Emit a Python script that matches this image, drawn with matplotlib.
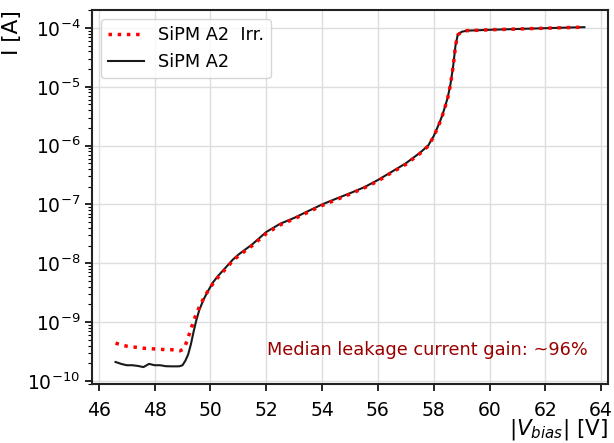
import matplotlib
import matplotlib.pyplot as plt
import numpy as np

matplotlib.use("Agg")

# bias voltage [V]
v_bias = [46.6, 46.8, 47.0, 47.2, 47.4, 47.6, 47.8, 48.0, 48.2, 48.4, 48.6,
          48.8, 48.9, 49.0, 49.1, 49.2, 49.3, 49.4, 49.5, 49.6, 49.75, 49.9,
          50.1, 50.3, 50.5, 50.8, 51.0, 51.5, 52.0, 52.5, 53.0, 53.5, 54.0,
          54.5, 55.0, 55.5, 56.0, 56.5, 57.0, 57.5, 57.8, 58.0, 58.2, 58.3,
          58.4, 58.5, 58.6, 58.7, 58.78, 58.86, 59.0, 59.2, 59.5, 60.0, 61.0,
          62.0, 63.0, 63.4]

# current [A], irradiated
i_irr = [4.4e-10, 4.1e-10, 3.9e-10, 3.8e-10, 3.7e-10, 3.6e-10, 3.55e-10,
         3.5e-10, 3.45e-10, 3.4e-10, 3.4e-10, 3.3e-10, 3.25e-10, 3.4e-10,
         4.0e-10, 5.5e-10, 7.5e-10, 1.05e-9, 1.4e-9, 1.8e-9, 2.5e-9, 3.3e-9,
         4.6e-9, 6.0e-9, 7.6e-9, 1.1e-8, 1.33e-8, 2.0e-8, 3.2e-8, 4.5e-8,
         5.7e-8, 7.4e-8, 9.6e-8, 1.2e-7, 1.5e-7, 1.9e-7, 2.5e-7, 3.5e-7,
         4.8e-7, 7.3e-7, 9.8e-7, 1.42e-6, 2.35e-6, 3.1e-6, 4.4e-6, 6.4e-6,
         1.08e-5, 2.25e-5, 4.9e-5, 7.6e-5, 8.6e-5, 9.0e-5, 9.1e-5, 9.3e-5,
         9.6e-5, 9.9e-5, 1.02e-4, 1.03e-4]

# current [A], before irradiation
i_ref = [2.1e-10, 1.95e-10, 1.85e-10, 1.85e-10, 1.8e-10, 1.72e-10, 1.95e-10,
         1.85e-10, 1.85e-10, 1.78e-10, 1.77e-10, 1.77e-10, 1.78e-10, 1.85e-10,
         2.2e-10, 2.8e-10, 4.2e-10, 7.0e-10, 1.1e-9, 1.6e-9, 2.4e-9, 3.3e-9,
         4.8e-9, 6.3e-9, 8.0e-9, 1.15e-8, 1.4e-8, 2.1e-8, 3.4e-8, 4.7e-8,
         5.9e-8, 7.7e-8, 1.0e-7, 1.25e-7, 1.55e-7, 1.95e-7, 2.6e-7, 3.6e-7,
         5.0e-7, 7.5e-7, 1.0e-6, 1.45e-6, 2.4e-6, 3.2e-6, 4.5e-6, 6.5e-6,
         1.1e-5, 2.3e-5, 5.0e-5, 7.6e-5, 8.6e-5, 9.0e-5, 9.1e-5, 9.3e-5,
         9.6e-5, 9.9e-5, 1.02e-4, 1.03e-4]

fig = plt.figure(figsize=(6.14, 4.43), dpi=100)
ax = fig.add_axes([0.15, 0.133, 0.84, 0.844])

ax.plot(v_bias, i_irr, ":", color="red", linewidth=2.5, label="SiPM A2  Irr.", zorder=3)
ax.plot(v_bias, i_ref, "-", color="#1a1a1a", linewidth=1.5, label="SiPM A2", zorder=2)
ax.set_yscale("log")

ax.grid(True, which="major", color="#dddddd", linewidth=1)
ax.set_axisbelow(True)
ax.set_xticks(np.arange(46, 65, 2))
ax.tick_params(axis="both", which="major", labelsize=13.5, length=5, width=1.2)
ax.tick_params(axis="x", which="major", pad=7)
ax.tick_params(axis="y", which="minor", length=3, width=0.8)
for s in ax.spines.values():
    s.set_linewidth(1.5)
    s.set_color("#222222")

ax.set_ylabel("I [A]", fontsize=15.5, loc="top")
ax.set_xlabel(r"$|V_{bias}|$ [V]", fontsize=15.5, ha="right", va="top")
ax.xaxis.set_label_coords(1.0, -0.088)

ax.legend(loc="upper left", fontsize=12.8)
ax.text(0.961, 0.09, "Median leakage current gain: ~96%", transform=ax.transAxes,
        ha="right", va="center", fontsize=12.8, color="#990000")

plt.savefig("out.png")
